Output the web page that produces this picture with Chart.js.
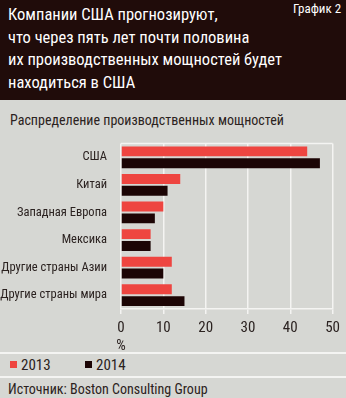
<!DOCTYPE html>
<html>
<head>
<meta charset="utf-8">
<script src="https://cdn.jsdelivr.net/npm/chart.js@4"></script>
<style>
	html, body { margin: 0; padding: 0; }
	body { width: 346px; height: 398px; background: #d6d7d3; position: relative; overflow: hidden;
		font-family: "Roboto Condensed", "Roboto", sans-serif; color: #2b2220; }
	#head { position: absolute; left: 0; top: 0; width: 346px; height: 100px; background: #200c0a; }
	#title { position: absolute; left: 8px; top: 4px; color: #fff; font-size: 16.5px; line-height: 22.5px; white-space: nowrap; }
	#tag { position: absolute; left: 293px; top: 1px; color: #fff; font-size: 13px; line-height: 16px; }
	#sub { position: absolute; left: 10px; top: 112px; font-size: 14px; line-height: 16px; white-space: nowrap; }
	#wrap { position: absolute; left: 0; top: 130px; width: 346px; height: 222px; }
	.sep { position: absolute; left: 0; width: 346px; height: 1.5px; background: #f4f4f2; }
	#legend { position: absolute; left: 10px; top: 357px; font-size: 15px; line-height: 17px; white-space: nowrap; }
	#legend span { display: inline-block; }
	#legend i { display: inline-block; width: 7px; height: 7px; margin-right: 4px; vertical-align: 2px; }
	#src { position: absolute; left: 8px; top: 380.5px; font-size: 14px; line-height: 16px; white-space: nowrap; }
</style>
</head>
<body>
<div id="head">
	<div id="title">Компании США прогнозируют,<br>что через пять лет почти половина<br>их производственных мощностей будет<br>находиться в США</div>
	<div id="tag">График 2</div>
</div>
<div id="sub">Распределение производственных мощностей</div>
<div id="wrap"><canvas id="chart"></canvas></div>
<div class="sep" style="top:352px"></div>
<div id="legend"></div>
<div class="sep" style="top:376px"></div>
<div id="src">Источник: Boston Consulting Group</div>
<script>
const categories = ["США", "Китай", "Западная Европа", "Мексика", "Другие страны Азии", "Другие страны мира"];
const values2013 = [44, 14, 10, 7, 12, 12];
const values2014 = [47, 11, 8, 7, 10, 15];
const seriesLabels = ["2013", "2014"];
const xTicks = [0, 10, 20, 30, 40, 50];

const colors = ["#ee4540", "#1c0505"];
const fontFamily = '"Roboto Condensed", "Roboto", sans-serif';

// top edge of the plot box
const boxTop = {
	id: "boxTop",
	afterDraw(chart) {
		const a = chart.chartArea, c = chart.ctx;
		c.save();
		c.strokeStyle = "#f4f4f2";
		c.lineWidth = 1.5;
		c.beginPath();
		c.moveTo(a.left, a.top);
		c.lineTo(a.right, a.top);
		c.stroke();
		c.restore();
	}
};

new Chart(document.getElementById("chart"), {
	type: "bar",
	data: {
		labels: categories,
		datasets: [
			{ label: seriesLabels[0], data: values2013, backgroundColor: colors[0] },
			{ label: seriesLabels[1], data: values2014, backgroundColor: colors[1] }
		]
	},
	options: {
		indexAxis: "y",
		responsive: true,
		maintainAspectRatio: false,
		animation: false,
		categoryPercentage: 0.86,
		barPercentage: 0.84,
		layout: { padding: { top: 9, right: 12, bottom: 0, left: 0 } },
		plugins: { legend: { display: false }, tooltip: { enabled: false } },
		scales: {
			x: {
				min: 0, max: 50,
				afterBuildTicks: s => { s.ticks = xTicks.map(v => ({ value: v })); },
				afterFit: s => { s.height = 43; },
				grid: { color: "#f4f4f2", lineWidth: 1.5, tickLength: 5 },
				border: { color: "#f4f4f2", width: 1.5 },
				ticks: {
					color: "#2b2220", padding: 6,
					font: { family: fontFamily, size: 15, lineHeight: 1.15 },
					callback: v => v === 0 ? ["0", "%"] : String(v)
				}
			},
			y: {
				afterFit: s => { s.width = 121; },
				grid: { display: false },
				border: { display: false },
				ticks: { color: "#2b2220", padding: 6, font: { family: fontFamily, size: 12.5 } }
			}
		}
	},
	plugins: [boxTop]
});

document.getElementById("legend").innerHTML = seriesLabels.map((s, i) =>
	`<span style="width:${i ? 'auto' : '75px'}"><i style="background:${colors[i]}"></i>${s}</span>`).join("");
</script>
</body>
</html>
